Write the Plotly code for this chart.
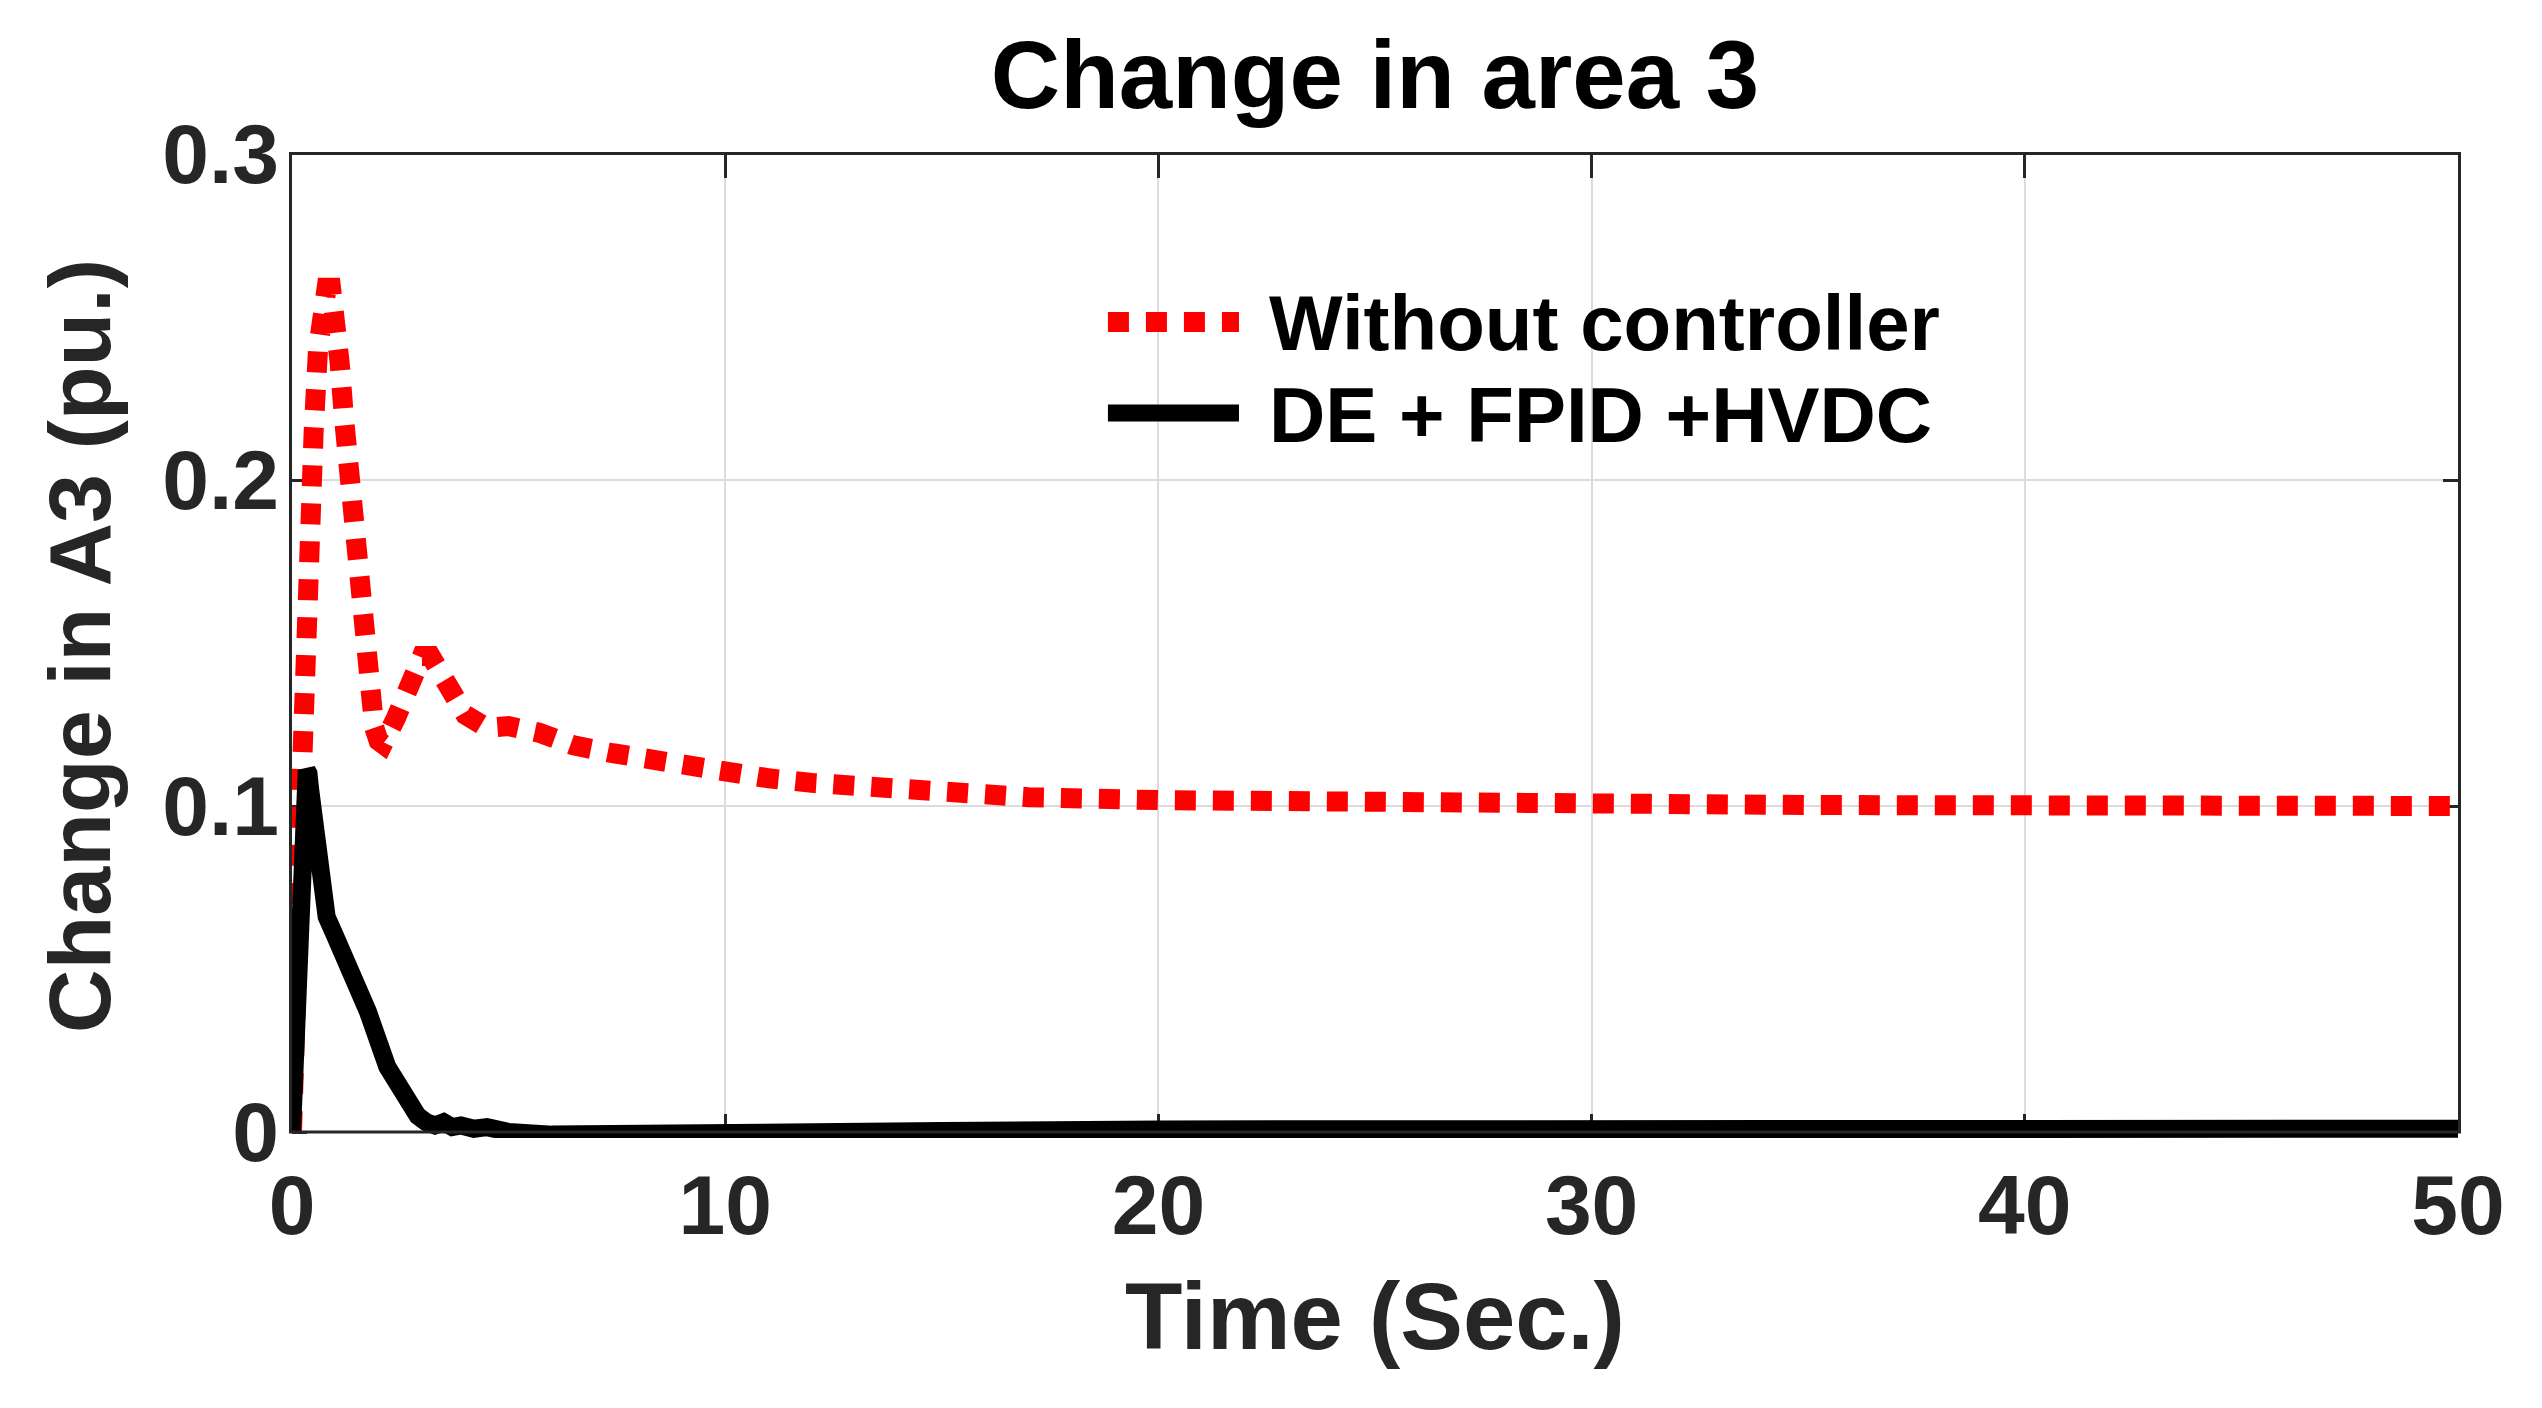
import plotly.graph_objects as go

# ---- data ----
t_red = [0, 0.05, 0.1, 0.15, 0.2, 0.25, 0.3, 0.35, 0.4, 0.45, 0.5, 0.6, 0.7, 0.8, 0.9,
         1.0, 1.1, 1.2, 1.3, 1.4, 1.5, 1.6, 1.7, 1.8, 1.9, 2.0, 2.1, 2.4, 2.7, 3.0, 3.2,
         3.6, 4.0, 4.5, 5.0, 5.7, 6.5, 7.4, 8.2, 9.1, 10, 11, 12, 13, 14, 15, 17, 20,
         25, 30, 35, 40, 45, 50]
v_red = [0, 0.015, 0.045, 0.08, 0.105, 0.125, 0.145, 0.165, 0.185, 0.2, 0.215, 0.24,
         0.253, 0.259, 0.259, 0.251, 0.236, 0.219, 0.205, 0.184, 0.166, 0.151, 0.139,
         0.131, 0.124, 0.12, 0.119, 0.127, 0.137, 0.146, 0.146, 0.138, 0.128, 0.124,
         0.1245, 0.1225, 0.1186, 0.1162, 0.1142, 0.112, 0.1097, 0.1085, 0.1071, 0.106,
         0.105, 0.104, 0.1027, 0.1018, 0.101, 0.1006, 0.1003, 0.1002, 0.1001, 0.1]

t_blk = [0, 0.1, 0.2, 0.26, 0.3, 0.34, 0.38, 0.42, 0.47, 0.52, 0.58, 0.66, 0.8, 1.0,
         1.3, 1.75, 2.2, 2.6, 2.9, 3.1, 3.3, 3.5, 3.7, 3.9, 4.2, 4.5, 5.0, 6, 8, 10,
         15, 20, 30, 40, 50]
v_blk = [0, 0.035, 0.07, 0.092, 0.104, 0.111, 0.11, 0.105, 0.099, 0.089, 0.08, 0.074,
         0.066, 0.06, 0.051, 0.037, 0.02, 0.01, 0.005, 0.003, 0.002, 0.003, 0.0015,
         0.002, 0.001, 0.0015, 0.0, -0.0008, -0.0008, -0.0003, 0.0003, 0.0008, 0.001,
         0.001, 0.001]

series_names = ["Without controller", "DE + FPID +HVDC"]
x_ticks = [0, 10, 20, 30, 40, 50]
y_ticks = [0, 0.1, 0.2, 0.3]
y_tick_text = ["0", "0.1", "0.2", "0.3"]

FONT = "Liberation Sans, Arial, sans-serif"
AX = "#262626"
RED_DASH = "21px,17px"

fig = go.Figure()
fig.add_trace(go.Scatter(x=t_red, y=v_red, mode="lines", name=series_names[0],
                         line=dict(color="#ff0000", width=20, dash=RED_DASH),
                         showlegend=False))
fig.add_trace(go.Scatter(x=t_blk, y=v_blk, mode="lines", name=series_names[1],
                         line=dict(color="#000000", width=18),
                         showlegend=False))

# axes box (drawn as a frame so the thick line may run over the lower edge)
fig.add_shape(type="rect", xref="paper", yref="paper",
              x0=-0.00069, x1=1.00069, y0=0.0061, y1=1.0005,
              line=dict(color=AX, width=3), fillcolor="rgba(0,0,0,0)", layer="above")

# manual legend (wide samples like the original)
leg_line_y = [0.8293, 0.7368]
leg_text_y = [0.828, 0.7348]
fig.add_shape(type="line", xref="paper", yref="paper", x0=0.3767, x1=0.4372,
              y0=leg_line_y[0], y1=leg_line_y[0],
              line=dict(color="#ff0000", width=20, dash=RED_DASH))
fig.add_shape(type="line", xref="paper", yref="paper", x0=0.3767, x1=0.4372,
              y0=leg_line_y[1], y1=leg_line_y[1], line=dict(color="#000000", width=17))
for name, yy in zip(series_names, leg_text_y):
    fig.add_annotation(xref="paper", yref="paper", x=0.450, y=yy, text=name,
                       showarrow=False, xanchor="left", yanchor="middle",
                       font=dict(family=FONT, size=78, color="#000000", weight="bold"))

axis_common = dict(showline=False, mirror="ticks",
                   showgrid=True, gridcolor="#dcdcdc", gridwidth=2,
                   ticks="inside", tickwidth=3, tickcolor=AX,
                   zeroline=False, layer="below traces",
                   tickfont=dict(family=FONT, size=84, color=AX, weight="bold"))

fig.update_layout(
    width=2526, height=1392,
    paper_bgcolor="white", plot_bgcolor="white",
    margin=dict(l=284, r=76, t=146, b=262),
    title=dict(text="Change in area 3", x=0.5, xref="paper", xanchor="center",
               y=1 - 66 / 1392, yanchor="middle",
               font=dict(family=FONT, size=96, color="#000000", weight="bold")),
    xaxis=dict(range=[0, 50], tickvals=x_ticks, ticklabelstandoff=11, ticklen=24,
               title=dict(text="Time (Sec.)", standoff=32,
                          font=dict(family=FONT, size=94, color=AX, weight="bold")),
               **axis_common),
    yaxis=dict(range=[-0.00184, 0.3], tickvals=y_ticks, ticktext=y_tick_text,
               ticklabelstandoff=12, ticklen=15,
               title=dict(text="Change in A3 (pu.)", standoff=22,
                          font=dict(family=FONT, size=88, color=AX, weight="bold")),
               **axis_common),
)

fig.write_html("out.html")
